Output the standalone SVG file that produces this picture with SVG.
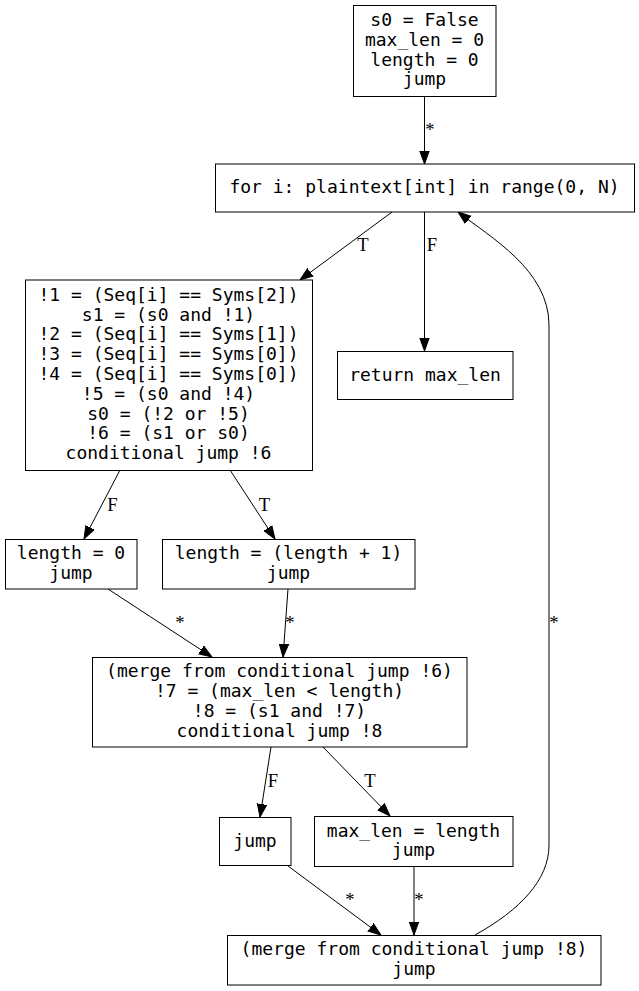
<svg xmlns="http://www.w3.org/2000/svg" width="639" height="991" viewBox="0 0 639 991">
<style>
.box{fill:#fff;stroke:#000;stroke-width:1}
.t{font-family:"DejaVu Sans Mono",monospace;font-size:18px;text-anchor:middle;fill:#000}
.e{fill:none;stroke:#000;stroke-width:1}
.l{font-family:"Liberation Serif","Times New Roman",serif;font-size:18.67px;text-anchor:middle;fill:#000}
</style>
<defs>
<marker id="arr" markerUnits="userSpaceOnUse" markerWidth="16" markerHeight="14" viewBox="0 -7 16 14" refX="13" refY="0" orient="auto">
<path d="M0,-4.7 L13,0 L0,4.7 z" fill="#000" stroke="#000" stroke-width="1"/>
</marker>
</defs>
<rect width="639" height="991" fill="#fff"/>
<g id="connectors">
<path class="e" marker-end="url(#arr)" d="M424.5,96 L424.5,164"/>
<text class="l" x="430" y="136">*</text>
<path class="e" marker-end="url(#arr)" d="M392,212 L300,280"/>
<text class="l" x="363" y="251">T</text>
<path class="e" marker-end="url(#arr)" d="M424.5,212 L424.5,351"/>
<text class="l" x="432" y="251">F</text>
<path class="e" marker-end="url(#arr)" d="M120,470 L84,539"/>
<text class="l" x="112.5" y="511">F</text>
<path class="e" marker-end="url(#arr)" d="M230,470 L275,539"/>
<text class="l" x="264.5" y="511">T</text>
<path class="e" marker-end="url(#arr)" d="M108,589 L212,657"/>
<text class="l" x="180" y="629">*</text>
<path class="e" marker-end="url(#arr)" d="M288,589 L283,657"/>
<text class="l" x="290" y="629">*</text>
<path class="e" marker-end="url(#arr)" d="M271,747 L260,817"/>
<text class="l" x="273" y="787">F</text>
<path class="e" marker-end="url(#arr)" d="M323,747 L390,816"/>
<text class="l" x="370" y="787">T</text>
<path class="e" marker-end="url(#arr)" d="M288,866 L381,935"/>
<text class="l" x="350" y="906">*</text>
<path class="e" marker-end="url(#arr)" d="M414,866 L414,935"/>
<text class="l" x="419" y="906">*</text>
<path class="e" marker-end="url(#arr)" d="M475,935 C520,910 549,880 549,845 L549,325 C549,270 490,237 458,212"/>
<text class="l" x="554" y="629">*</text>
</g>
<g id="n_init">
<rect class="box" x="353.5" y="5.5" width="142.5" height="91"/>
<text class="t" x="424.5" y="26">s0 = False</text>
<text class="t" x="424.5" y="45.8">max_len = 0</text>
<text class="t" x="424.5" y="65.6">length = 0</text>
<text class="t" x="424.5" y="85.4">jump</text>
</g>
<g id="n_for">
<rect class="box" x="215.5" y="164" width="419" height="48"/>
<text class="t" x="424.5" y="193">for i: plaintext[int] in range(0, N)</text>
</g>
<g id="n_body">
<rect class="box" x="25.5" y="280" width="287" height="190.5"/>
<text class="t" x="168.5" y="300.8">!1 = (Seq[i] == Syms[2])</text>
<text class="t" x="168.5" y="320.6">s1 = (s0 and !1)</text>
<text class="t" x="168.5" y="340.4">!2 = (Seq[i] == Syms[1])</text>
<text class="t" x="168.5" y="360.2">!3 = (Seq[i] == Syms[0])</text>
<text class="t" x="168.5" y="380">!4 = (Seq[i] == Syms[0])</text>
<text class="t" x="168.5" y="399.8">!5 = (s0 and !4)</text>
<text class="t" x="168.5" y="419.6">s0 = (!2 or !5)</text>
<text class="t" x="168.5" y="439.4">!6 = (s1 or s0)</text>
<text class="t" x="168.5" y="459.2">conditional jump !6</text>
</g>
<g id="n_return">
<rect class="box" x="337.5" y="351.5" width="175.5" height="48"/>
<text class="t" x="425" y="381">return max_len</text>
</g>
<g id="n_len0">
<rect class="box" x="5.5" y="539.5" width="131.5" height="49.5"/>
<text class="t" x="71" y="559">length = 0</text>
<text class="t" x="71" y="578.8">jump</text>
</g>
<g id="n_leninc">
<rect class="box" x="162.5" y="539.5" width="252.5" height="49.5"/>
<text class="t" x="288.5" y="559">length = (length + 1)</text>
<text class="t" x="288.5" y="578.8">jump</text>
</g>
<g id="n_merge6">
<rect class="box" x="92.5" y="657.5" width="374.5" height="89.5"/>
<text class="t" x="279.5" y="677.3">(merge from conditional jump !6)</text>
<text class="t" x="279.5" y="697.1">!7 = (max_len &lt; length)</text>
<text class="t" x="279.5" y="716.9">!8 = (s1 and !7)</text>
<text class="t" x="279.5" y="736.7">conditional jump !8</text>
</g>
<g id="n_jump">
<rect class="box" x="219.5" y="817.5" width="71.5" height="48"/>
<text class="t" x="255" y="846.5">jump</text>
</g>
<g id="n_maxlen">
<rect class="box" x="314.5" y="816.5" width="198.5" height="50"/>
<text class="t" x="413.5" y="836.5">max_len = length</text>
<text class="t" x="413.5" y="856.3">jump</text>
</g>
<g id="n_merge8">
<rect class="box" x="227.5" y="935.5" width="373.5" height="49.5"/>
<text class="t" x="414" y="955.3">(merge from conditional jump !8)</text>
<text class="t" x="414" y="975.1">jump</text>
</g>
</svg>
